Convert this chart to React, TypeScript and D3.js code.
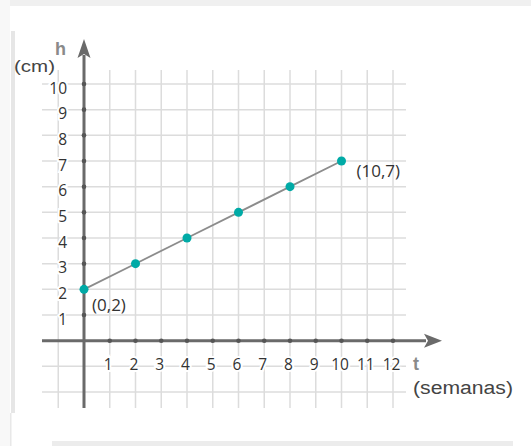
import React from "react";
import * as d3 from "d3";

const weeks = [0, 2, 4, 6, 8, 10];
const heights = [2, 3, 4, 5, 6, 7];
const xTicks = [1, 2, 3, 4, 5, 6, 7, 8, 9, 10, 11, 12];
const yTicks = [1, 2, 3, 4, 5, 6, 7, 8, 9, 10];
const xGrid = [-1, 0, 1, 2, 3, 4, 5, 6, 7, 8, 9, 10, 11, 12];
const yGrid = [-2, -1, 0, 1, 2, 3, 4, 5, 6, 7, 8, 9, 10];
const pointLabels = [
  { i: 0, text: "(0,2)" },
  { i: 5, text: "(10,7)" },
];

export default function App() {
  const W = 531;
  const H = 446;
  const x = d3.scaleLinear().domain([0, 12]).range([84, 393]);
  const y = d3.scaleLinear().domain([0, 10]).range([340.7, 84]);
  const pts = weeks.map((w, i) => [x(w), y(heights[i])] as [number, number]);
  const line = d3.line()(pts) || "";
  const gridColor = "#dcdcdc";
  const axisColor = "#6a6a6a";
  const x0 = x(0);
  const y0 = y(0);
  const halo = { paintOrder: "stroke", stroke: "#fff", strokeWidth: 4 } as any;

  return (
    <svg
      width={W}
      height={H}
      style={{ position: "absolute", left: 0, top: 0, background: "#fff" }}
    >
      {/* frame */}
      <rect x={0} y={0} width={W} height={6} fill="#f0f0f0" />
      <rect x={0} y={0} width={10} height={H} fill="#f8f8f8" />
      <rect x={11} y={31} width={4} height={382} fill="#e6e6e6" />
      <rect x={10} y={413} width={1.5} height={33} fill="#e8e8e8" />
      <rect x={52} y={441} width={461} height={5} fill="#ececec" />

      {/* grid */}
      {yGrid.map((v) => (
        <line
          key={"h" + v}
          x1={42}
          x2={406}
          y1={y(v)}
          y2={y(v)}
          stroke={gridColor}
          strokeWidth={1.5}
        />
      ))}
      {xGrid.map((v) => (
        <line
          key={"v" + v}
          x1={x(v)}
          x2={x(v)}
          y1={70}
          y2={408}
          stroke={gridColor}
          strokeWidth={1.5}
        />
      ))}

      {/* axes */}
      <line x1={42} x2={426} y1={y0} y2={y0} stroke={axisColor} strokeWidth={3} />
      <path
        d={`M${442},${y0} L${424},${y0 - 7} L${428},${y0} L${424},${y0 + 7} Z`}
        fill={axisColor}
      />
      <line x1={x0} x2={x0} y1={408} y2={55} stroke={axisColor} strokeWidth={3} />
      <path
        d={`M${x0},39 L${x0 - 6.5},58 L${x0},54 L${x0 + 6.5},58 Z`}
        fill={axisColor}
      />
      {xTicks.map((v) => (
        <circle key={"xd" + v} cx={x(v)} cy={y0} r={2.3} fill="#555" />
      ))}
      {yTicks.map((v) => (
        <circle key={"yd" + v} cx={x0} cy={y(v)} r={2.3} fill="#555" />
      ))}

      {/* tick labels */}
      {xTicks.map((v) => (
        <text
          key={"xl" + v}
          x={x(v) - 1.5}
          y={364}
          dominantBaseline="central"
          textAnchor="middle"
          fontFamily="Open Sans"
          fontSize={15.5}
          fill="#333"
          style={halo}
        >
          {v}
        </text>
      ))}
      {yTicks.map((v) => (
        <text
          key={"yl" + v}
          x={67}
          y={y(v) + 3.5}
          dominantBaseline="central"
          textAnchor="end"
          fontFamily="Open Sans"
          fontSize={15.5}
          fill="#333"
          style={halo}
        >
          {v}
        </text>
      ))}

      {/* axis titles */}
      <text x={55} y={55} fontFamily="Liberation Sans" fontWeight="bold" fontSize={18} fill="#8a8a8a">
        h
      </text>
      <text
        x={14}
        y={72}
        fontFamily="Liberation Sans"
        fontSize={16}
        fill="#444"
        textLength={41}
        lengthAdjust="spacingAndGlyphs"
      >
        (cm)
      </text>
      <text x={413} y={370} fontFamily="Liberation Sans" fontWeight="bold" fontSize={18} fill="#8a8a8a">
        t
      </text>
      <text
        x={413}
        y={394}
        fontFamily="Liberation Sans"
        fontSize={18}
        fill="#444"
        textLength={100}
        lengthAdjust="spacingAndGlyphs"
      >
        (semanas)
      </text>

      {/* data */}
      <path d={line} fill="none" stroke="#8c8c8c" strokeWidth={1.8} />
      {pts.map((p, i) => (
        <circle key={"p" + i} cx={p[0]} cy={p[1]} r={4.5} fill="#00aaa6" />
      ))}
      {pointLabels.map((l) => (
        <text
          key={"pl" + l.i}
          x={pts[l.i][0] + (l.i === 0 ? 8 : 15)}
          y={pts[l.i][1] + (l.i === 0 ? 15 : 9)}
          dominantBaseline="central"
          fontFamily="Open Sans"
          fontSize={17}
          fill="#333"
        >
          {l.text}
        </text>
      ))}
    </svg>
  );
}
